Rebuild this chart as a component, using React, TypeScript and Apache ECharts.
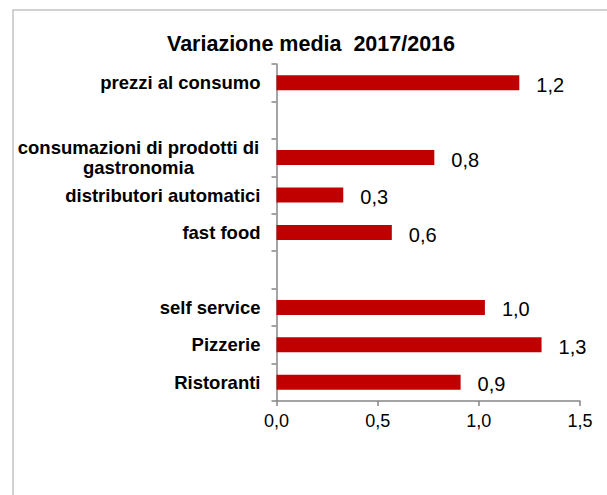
import React, { useEffect, useRef } from "react";
import * as echarts from "echarts";

const titleText = "Variazione media  2017/2016";
const categories = [
  "prezzi al consumo",
  " ",
  "consumazioni di prodotti di\ngastronomia",
  "distributori automatici",
  "fast food",
  "  ",
  "self service",
  "Pizzerie",
  "Ristoranti",
];
const values: (number | null)[] = [1.2, null, 0.78, 0.33, 0.57, null, 1.03, 1.31, 0.91];
const xMin = 0;
const xMax = 1.5;
const xStep = 0.5;

const fmt = (v: number) => v.toFixed(1).replace(".", ",");

export default function App() {
  const ref = useRef<HTMLDivElement>(null);
  useEffect(() => {
    if (!ref.current) return;
    const chart = echarts.init(ref.current, undefined, { renderer: "svg" });
    const font = "Liberation Sans, Arial, sans-serif";
    const catData = categories.map((c) =>
      c.indexOf("\n") >= 0
        ? {
            value: c,
            textStyle: {
              align: "center",
              padding: [0, 244, 0, 0],
              lineHeight: 20,
            },
          }
        : c
    );
    chart.setOption({
      animation: false,
      backgroundColor: "#ffffff",
      textStyle: { fontFamily: font },
      title: {
        text: titleText,
        left: 311,
        top: 33,
        padding: 0,
        textAlign: "center",
        textStyle: { fontSize: 21.5, fontWeight: "bold", color: "#000", fontFamily: font },
      },
      graphic: [
        {
          type: "rect",
          shape: { x: 13, y: 10, width: 700, height: 600 },
          style: { fill: "none", stroke: "#c4c4c4", lineWidth: 1.5 },
          silent: true,
          z: -1,
        },
      ],
      grid: { left: 276.5, right: 27, top: 64, bottom: 94, containLabel: false },
      xAxis: {
        type: "value",
        min: xMin,
        max: xMax,
        interval: xStep,
        splitLine: { show: false },
        axisLine: { show: true, lineStyle: { color: "#868686", width: 1.5 } },
        axisTick: { show: true, length: 5, lineStyle: { color: "#868686", width: 1.5 } },
        axisLabel: {
          formatter: (v: number) => fmt(v),
          fontSize: 18,
          color: "#000",
          margin: 11,
          fontFamily: font,
        },
      },
      yAxis: {
        type: "category",
        data: catData,
        inverse: true,
        axisLine: { show: true, lineStyle: { color: "#868686", width: 1.5 } },
        axisTick: { show: true, length: 5, lineStyle: { color: "#868686", width: 1.5 } },
        axisLabel: {
          fontSize: 18.5,
          fontWeight: "bold",
          color: "#000",
          margin: 16,
          lineHeight: 20,
          fontFamily: font,
        },
      },
      series: [
        {
          type: "bar",
          data: values,
          barWidth: 15,
          itemStyle: { color: "#C00000" },
          label: {
            show: true,
            position: "right",
            distance: 17,
            offset: [0, 2],
            fontSize: 20,
            color: "#000",
            fontFamily: font,
            formatter: (p: any) => (p.value == null ? "" : fmt(p.value)),
          },
        },
      ],
    });
    return () => chart.dispose();
  }, []);
  return (
    <div
      ref={ref}
      style={{ position: "fixed", left: 0, top: 0, width: 607, height: 495 }}
    />
  );
}
